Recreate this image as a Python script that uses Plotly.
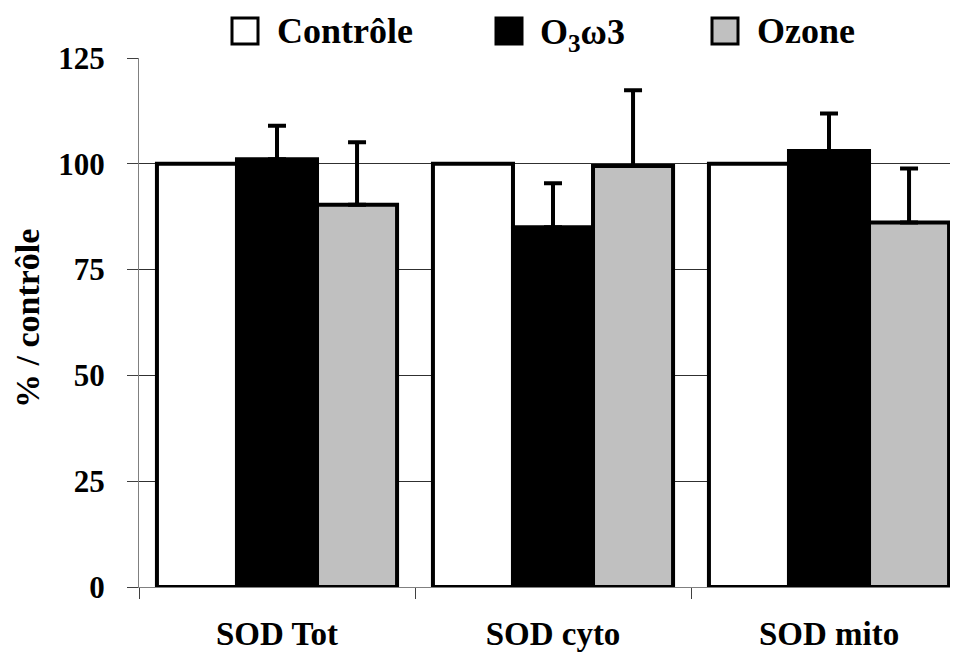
import plotly.graph_objects as go

# données (% du contrôle)
categories = ['SOD Tot', 'SOD cyto', 'SOD mito']
controle = [100, 100, 100]
o3w3 = [101.1, 85.0, 103.0]
o3w3_err = [7.9, 10.4, 8.9]
ozone = [90.3, 99.5, 86.1]
ozone_err = [14.8, 17.9, 12.8]

y_ticks = [0, 25, 50, 75, 100, 125]

FONT = '"Times New Roman", "Liberation Serif", Times, serif'

# la page html ajoute une marge de 8 px autour de la figure
OFF = 8
W, H = 958 - OFF, 652 - OFF
# zone de tracé (pixels de l'écran)
L, R, T, B = 139, 958, 58, 587

def px_x(p):
    return (p - L) / (R - L)

def px_y(p):
    return (B - p) / (B - T)

fig = go.Figure()

err_style = dict(type='data', symmetric=False, color='black', thickness=4, width=9)

fig.add_trace(go.Bar(x=categories, y=controle, name='Contrôle',
                     marker=dict(color='white', line=dict(color='black', width=4)),
                     showlegend=False))
fig.add_trace(go.Bar(x=categories, y=o3w3, name='O3w3',
                     marker=dict(color='black', line=dict(color='black', width=4)),
                     error_y=dict(array=o3w3_err, arrayminus=[0, 0, 0], **err_style),
                     showlegend=False))
fig.add_trace(go.Bar(x=categories, y=ozone, name='Ozone',
                     marker=dict(color='#c0c0c0', line=dict(color='black', width=4)),
                     error_y=dict(array=ozone_err, arrayminus=[0, 0, 0], **err_style),
                     showlegend=False))

# légende dessinée à la main (carrés + texte)
legend_items = [('<b>Contrôle</b>', 'white', 232, 275, 31),
                ('<b>O<sub>3</sub>ω3</b>', 'black', 496, 538, 34),
                ('<b>Ozone</b>', '#c0c0c0', 712, 755, 31)]
for label, col, bx, tx, ty in legend_items:
    fig.add_shape(type='rect', xref='paper', yref='paper',
                  x0=px_x(bx), x1=px_x(bx + 26), y0=px_y(44), y1=px_y(18),
                  fillcolor=col, line=dict(color='black', width=3))
    fig.add_annotation(text=label, xref='paper', yref='paper',
                       x=px_x(tx), y=px_y(ty), xanchor='left', yanchor='middle',
                       showarrow=False, font=dict(family=FONT, size=36, color='black'))

# titre de l'axe y
fig.add_annotation(text='<b>% / contrôle</b>', xref='paper', yref='paper',
                   x=px_x(27), y=px_y(318), textangle=-90,
                   xanchor='center', yanchor='middle', showarrow=False,
                   font=dict(family=FONT, size=34, color='black'))

fig.update_layout(
    width=W, height=H,
    margin=dict(l=L - OFF, r=958 - R, t=T - OFF, b=652 - B, pad=0),
    plot_bgcolor='white', paper_bgcolor='white',
    barmode='group', bargap=0.13, bargroupgap=0,
    font=dict(family=FONT, color='black'),
    xaxis=dict(range=[-0.5, -0.5 + (R - L) / 276], tickson='boundaries',
               ticks='outside', ticklen=11, tickcolor='#404040', tickwidth=1,
               showline=True, linecolor='#808080', linewidth=1,
               showgrid=False, ticklabelstandoff=17,
               tickfont=dict(family=FONT, size=33, color='black', weight='bold')),
    yaxis=dict(range=[0, 125], tickvals=y_ticks, ticks='outside', ticklen=11,
               tickcolor='#404040', tickwidth=1,
               showline=True, linecolor='#808080', linewidth=1,
               showgrid=True, gridcolor='#303030', gridwidth=1, zeroline=False,
               ticklabelstandoff=16,
               tickfont=dict(family=FONT, size=31, color='black', weight='bold')),
)

fig.write_html('out.html')
